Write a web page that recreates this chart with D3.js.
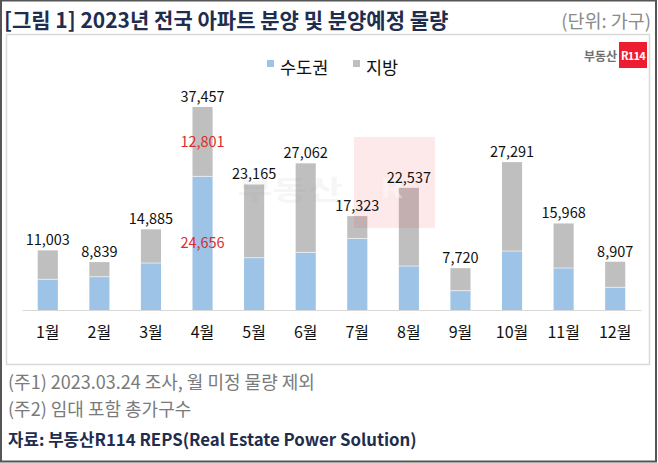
<!DOCTYPE html>
<html>
<head>
<meta charset="utf-8">
<script src="https://cdn.jsdelivr.net/npm/d3@7"></script>
<style>
  body { margin: 0; background: #fff; }
  svg text { font-family: "Noto Sans CJK KR", "Noto Sans", sans-serif; }
</style>
</head>
<body>
<svg id="chart" width="658" height="463"></svg>
<script>
//
// Data
//

var months = ['1월', '2월', '3월', '4월', '5월', '6월', '7월', '8월', '9월', '10월', '11월', '12월']
var totals = [11003, 8839, 14885, 37457, 23165, 27062, 17323, 22537, 7720, 27291, 15968, 8907]
var metro = [5660, 6140, 8660, 24656, 9640, 10630, 13200, 8110, 3560, 10870, 7740, 4180]
var seriesNames = ['수도권', '지방']
var highlightMonth = '4월'

// colors
var colorMetro = '#9dc3e6'
var colorLocal = '#bfbfbf'
var colorNavy = '#1f2d4e'
var colorNote = '#7a7a7a'
var colorRed = '#dc2d2d'

//
// Layout
//

var svg = d3.select('#chart')
var fmt = d3.format(',')

var x = d3.scaleBand().domain(months).range([22, 641]).paddingInner(0.61).paddingOuter(0.305)
var y = d3.scaleLinear().domain([0, 37457]).range([310, 107])

// outer frame
svg.append('rect').attr('x', 1).attr('y', 0.5).attr('width', 655).attr('height', 461)
  .attr('fill', 'none').attr('stroke', '#555').attr('stroke-width', 2)

// title
svg.append('text').attr('x', 4).attr('y', 28)
  .attr('font-size', 21).attr('font-weight', 'bold').attr('fill', colorNavy)
  .text('[그림 1] 2023년 전국 아파트 분양 및 분양예정 물량')
svg.append('text').attr('x', 651).attr('y', 28).attr('text-anchor', 'end')
  .attr('font-size', 18.5).attr('fill', '#8a8a8a').text('(단위: 가구)')

// inner box
svg.append('rect').attr('x', 6.5).attr('y', 34.5).attr('width', 643).attr('height', 330)
  .attr('fill', '#fff').attr('stroke', '#d9d9d9').attr('stroke-width', 1.5)

// logo
svg.append('text').attr('x', 617).attr('y', 61).attr('text-anchor', 'end')
  .attr('font-size', 12).attr('font-weight', 'bold').attr('fill', '#6f6f6f').text('부동산')
svg.append('rect').attr('x', 619).attr('y', 42).attr('width', 28).attr('height', 26).attr('fill', '#ed1c2e')
svg.append('text').attr('x', 633).attr('y', 60).attr('text-anchor', 'middle')
  .attr('font-size', 11).attr('font-weight', 'bold').attr('letter-spacing', -0.8)
  .attr('fill', '#fff').text('R114')

// legend
var legend = svg.append('g')
var legendX = [267, 353]
seriesNames.forEach(function(name, i) {
  legend.append('rect').attr('x', legendX[i]).attr('y', 60).attr('width', 7).attr('height', 7)
    .attr('fill', i === 0 ? colorMetro : colorLocal)
  legend.append('text').attr('x', legendX[i] + 13).attr('y', 74)
    .attr('font-size', 17.5).attr('fill', '#111').text(name)
})

// bars
var rows = months.map(function(m, i) {
  return { month: m, total: totals[i], metro: metro[i], local: totals[i] - metro[i] }
})
var stack = d3.stack().keys(['metro', 'local'])(rows)
var colors = [colorMetro, colorLocal]

svg.append('g').selectAll('g').data(stack).join('g')
  .attr('fill', function(d, i) { return colors[i] })
  .selectAll('rect').data(function(d) { return d }).join('rect')
  .attr('x', function(d) { return x(d.data.month) })
  .attr('y', function(d) { return y(d[1]) })
  .attr('width', x.bandwidth())
  .attr('height', function(d) { return y(d[0]) - y(d[1]) })

// thin separator between segments
svg.append('g').selectAll('line').data(rows).join('line')
  .attr('x1', function(d) { return x(d.month) })
  .attr('x2', function(d) { return x(d.month) + x.bandwidth() })
  .attr('y1', function(d) { return y(d.metro) })
  .attr('y2', function(d) { return y(d.metro) })
  .attr('stroke', '#fff').attr('stroke-width', 0.6)

// watermark (drawn over the bars, very faint)
var wm = svg.append('g').attr('pointer-events', 'none')
wm.append('rect').attr('x', 354).attr('y', 137).attr('width', 81).attr('height', 91)
  .attr('fill', '#e8242f').attr('opacity', 0.1)
wm.append('text').attr('transform', 'translate(380,198) scale(1,0.8)')
  .attr('font-size', 34).attr('font-weight', 'bold').attr('fill', '#fff').attr('opacity', 0.4).text('R')
wm.append('text').attr('transform', 'translate(290,200) scale(1,0.72)').attr('text-anchor', 'middle')
  .attr('font-size', 38).attr('font-weight', 'bold').attr('fill', '#999').attr('opacity', 0.08).text('부동산')

// baseline axis
var axis = svg.append('g').attr('transform', 'translate(0,310)')
  .call(d3.axisBottom(x).tickSize(0).tickPadding(17))
axis.select('.domain').attr('stroke', '#d9d9d9').attr('stroke-width', 1.2)
axis.selectAll('text').attr('font-size', 16).attr('fill', '#111')
  .attr('font-family', '"Noto Sans CJK KR", sans-serif')

// total labels
svg.append('g').selectAll('text').data(rows).join('text')
  .attr('x', function(d) { return x(d.month) + x.bandwidth() / 2 })
  .attr('y', function(d) { return y(d.total) - 5 })
  .attr('text-anchor', 'middle').attr('font-size', 14.5).attr('fill', '#111')
  .text(function(d) { return fmt(d.total) })

// highlighted segment labels
var hl = rows.filter(function(d) { return d.month === highlightMonth })[0]
var hx = x(hl.month) + x.bandwidth() / 2
svg.append('text').attr('x', hx).attr('y', (y(hl.total) + y(hl.metro)) / 2 + 5)
  .attr('text-anchor', 'middle').attr('font-size', 14.5).attr('fill', colorRed).text(fmt(hl.local))
svg.append('text').attr('x', hx).attr('y', (y(hl.metro) + y(0)) / 2 + 5)
  .attr('text-anchor', 'middle').attr('font-size', 14.5).attr('fill', colorRed).text(fmt(hl.metro))

// notes
svg.append('text').attr('x', 8).attr('y', 389).attr('font-size', 18).attr('fill', colorNote)
  .text('(주1) 2023.03.24 조사, 월 미정 물량 제외')
svg.append('text').attr('x', 8).attr('y', 416).attr('font-size', 18).attr('fill', colorNote)
  .text('(주2) 임대 포함 총가구수')
svg.append('text').attr('x', 8).attr('y', 446).attr('font-size', 16.8).attr('font-weight', 'bold')
  .attr('fill', colorNavy).text('자료: 부동산R114 REPS(Real Estate Power Solution)')
</script>
</body>
</html>
